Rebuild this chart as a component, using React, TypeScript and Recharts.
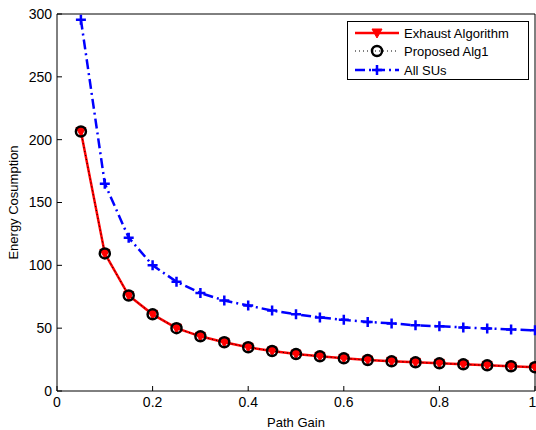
import { LineChart, Line, XAxis, YAxis, Legend } from "recharts";

const gains = [0.05, 0.1, 0.15, 0.2, 0.25, 0.3, 0.35, 0.4, 0.45, 0.5, 0.55, 0.6, 0.65, 0.7, 0.75, 0.8, 0.85, 0.9, 0.95, 1];
const exhaust = [206.5, 109.5, 76, 61, 50, 43.5, 38.8, 34.8, 31.8, 29.4, 27.6, 26, 24.6, 23.6, 22.8, 22, 21.2, 20.4, 19.6, 18.9];
const proposed = [206.5, 109.5, 76, 61, 50, 43.5, 38.8, 34.8, 31.8, 29.4, 27.6, 26, 24.6, 23.6, 22.8, 22, 21.2, 20.4, 19.6, 18.9];
const allSUs = [295.5, 165, 122, 100, 87, 78, 72, 68, 64, 61, 58.5, 56.6, 55, 53.8, 52.3, 51.5, 50.6, 49.8, 49, 48.3];
const xTicks = [0, 0.2, 0.4, 0.6, 0.8, 1];
const yTicks = [0, 50, 100, 150, 200, 250, 300];
const seriesNames = ["Exhaust Algorithm", "Proposed Alg1", "All SUs"];

const font = "'Liberation Sans', Arial, sans-serif";

function Tri({ cx, cy }: any) {
  return <path d={`M${cx - 5},${cy - 4}L${cx + 5},${cy - 4}L${cx},${cy + 5}Z`} fill="#ff0000" stroke="#ff0000" strokeWidth={1} />;
}

function Ring({ cx, cy }: any) {
  return <circle cx={cx} cy={cy} r={5} fill="none" stroke="#000" strokeWidth={2.5} />;
}

function Plus({ cx, cy }: any) {
  return <path d={`M${cx - 5},${cy}H${cx + 5}M${cx},${cy - 5}V${cy + 5}`} stroke="#0000ff" strokeWidth={2.5} fill="none" />;
}

function LegendBox() {
  const rows = [
    { y: 12, stroke: "#ff0000", dash: undefined, width: 2.5, marker: (x: number, y: number) => <Tri cx={x} cy={y} /> },
    { y: 30, stroke: "#000", dash: "1 3", width: 1, marker: (x: number, y: number) => <Ring cx={x} cy={y} /> },
    { y: 49, stroke: "#0000ff", dash: "10 4 2 4", width: 2.5, marker: (x: number, y: number) => <Plus cx={x} cy={y} /> },
  ];
  return (
    <svg width={182} height={59} style={{ display: "block" }}>
      <rect x={0.5} y={0.5} width={181} height={58} fill="#fff" stroke="#000" strokeWidth={1} />
      {rows.map((r, i) => (
        <g key={i}>
          <line x1={8} x2={52} y1={r.y} y2={r.y} stroke={r.stroke} strokeWidth={r.width} strokeDasharray={r.dash} />
          {r.marker(30, r.y)}
          <text x={57} y={r.y + 5} fontSize={13} fontFamily={font} fill="#000">{seriesNames[i]}</text>
        </g>
      ))}
    </svg>
  );
}

export default function App() {
  const data = gains.map((g, i) => ({ gain: g, exhaust: exhaust[i], proposed: proposed[i], all: allSUs[i] }));
  const tickStyle = { fill: "#000", fontSize: 14, fontFamily: font };
  return (
    <div style={{ position: "absolute", left: 0, top: 0, background: "#fff" }}>
      <LineChart width={536} height={430} data={data} margin={{ top: 13, right: 0, bottom: 0, left: 0 }}>
        <XAxis xAxisId="b" dataKey="gain" type="number" domain={[0, 1]} ticks={xTicks} height={39}
          tickSize={-5} tickMargin={11} stroke="#000" tick={tickStyle}
          label={{ value: "Path Gain", position: "insideBottom", offset: 3, fill: "#000", fontSize: 13, fontFamily: font }} />
        <XAxis xAxisId="t" orientation="top" dataKey="gain" type="number" domain={[0, 1]} ticks={xTicks} height={1}
          tickSize={-5} tick={false} stroke="#000" />
        <YAxis yAxisId="l" type="number" domain={[0, 300]} ticks={yTicks} width={57}
          tickSize={-5} tickMargin={10} stroke="#000" tick={tickStyle}
          label={({ viewBox }: any) => (
            <text x={18} y={viewBox.y + viewBox.height / 2} transform={`rotate(-90 18 ${viewBox.y + viewBox.height / 2})`}
              textAnchor="middle" fontSize={13} fontFamily={font} fill="#000">Energy Cosumption</text>
          )} />
        <YAxis yAxisId="r" orientation="right" type="number" domain={[0, 300]} ticks={yTicks} width={1}
          tickSize={-5} tick={false} stroke="#000" />
        <Legend layout="vertical" align="center" verticalAlign="middle"
          wrapperStyle={{ left: 347, top: 21, width: 182, height: 59 }} content={() => <LegendBox />} />
        <Line xAxisId="b" yAxisId="l" dataKey="exhaust" stroke="#ff0000" strokeWidth={2.5} isAnimationActive={false}
          activeDot={false} dot={(p: any) => <Tri key={`t${p.index}`} cx={p.cx} cy={p.cy} />} />
        <Line xAxisId="b" yAxisId="l" dataKey="proposed" stroke="#000" strokeWidth={1} strokeDasharray="1 3" isAnimationActive={false}
          activeDot={false} dot={(p: any) => <Ring key={`r${p.index}`} cx={p.cx} cy={p.cy} />} />
        <Line xAxisId="b" yAxisId="l" dataKey="all" stroke="#0000ff" strokeWidth={2.5} strokeDasharray="10 4 2 4" isAnimationActive={false}
          activeDot={false} dot={(p: any) => <Plus key={`p${p.index}`} cx={p.cx} cy={p.cy} />} />
      </LineChart>
    </div>
  );
}
